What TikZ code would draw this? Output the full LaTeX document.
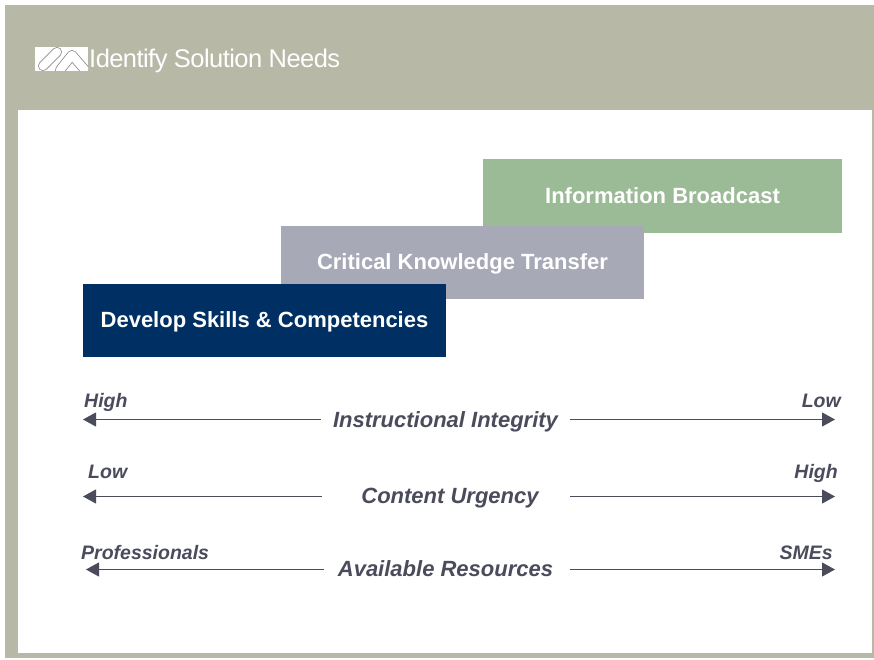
\documentclass[tikz,border=0pt]{standalone}
\usepackage{fontspec}
\setmainfont{Liberation Sans}
\usetikzlibrary{arrows.meta}
\definecolor{frameC}{HTML}{B7B9A6}
\definecolor{navy}{HTML}{003063}
\definecolor{greyB}{HTML}{A8A9B7}
\definecolor{greenB}{HTML}{9BBA96}
\definecolor{inkC}{HTML}{4A4C5C}
\tikzset{
  px/.style={x=1pt,y=-1pt},
  band/.style={draw=none,inner sep=0pt,outer sep=0pt,minimum height=73pt},
  bandtext/.style={anchor=base,inner sep=0pt,text=white,font=\bfseries\fontsize{22}{24}\selectfont},
  axislabel/.style={anchor=base,inner sep=0pt,text=inkC,font=\bfseries\itshape\fontsize{22}{24}\selectfont},
  endlabel/.style={inner sep=0pt,text=inkC,font=\bfseries\itshape\fontsize{19.5}{22}\selectfont},
  axisarrow/.style={draw=inkC,line width=1pt,-{Triangle[length=13pt,width=14pt]}},
  logoout/.style={draw=black!45,line width=10pt,line cap=round,line join=round},
  logoin/.style={draw=white,line width=8.4pt,line cap=round,line join=round}
}
\begin{document}
\begin{tikzpicture}[px]
\useasboundingbox (0,0) rectangle (874,660);
\fill[white] (0,0) rectangle (874,660);
\fill[frameC] (5,5) rectangle (874,658);
\fill[white] (18,110) rectangle (872,653);
% logo
\fill[white] (35,47) rectangle (88,71);
\begin{scope}
\clip (35,47) rectangle (88,71);
\draw[logoout] (43,66) -- (57,52);
\draw[logoin] (43,66) -- (57,52);
\draw[logoout] (60,70) -- (72,55) -- (85,70);
\draw[logoin] (60,70) -- (72,55) -- (85,70);
\end{scope}
\node[anchor=base west,inner sep=0pt,text=white,font=\fontsize{25.5}{28}\selectfont\addfontfeature{LetterSpace=-2.2}] (title) at (89,68) {Identify Solution Needs};
% bands
\node[band,fill=greenB,minimum width=359pt] (info) at (662.5,196) {};
\node[band,fill=greyB,minimum width=363pt] (crit) at (462.5,262.5) {};
\node[band,fill=navy,minimum width=363pt] (dev) at (264.5,320.5) {};
\node[bandtext] (infot) at (662.5,204) {Information Broadcast};
\node[bandtext] (critt) at (462.5,269.5) {Critical Knowledge Transfer};
\node[bandtext] (devt) at (264.5,327) {Develop Skills \& Competencies};
% axes
\node[axislabel] (ii) at (445.5,427) {Instructional Integrity};
\node[axislabel] (cu) at (450,503.5) {Content Urgency};
\node[axislabel] (ar) at (445.5,576) {Available Resources};
\coordinate (iiL) at (83,419.5); \coordinate (iiR) at (835,419.5);
\coordinate (iiLs) at (321,419.5); \coordinate (iiRs) at (570,419.5);
\coordinate (cuL) at (83,496.5); \coordinate (cuR) at (835,496.5);
\coordinate (cuLs) at (322,496.5); \coordinate (cuRs) at (570,496.5);
\coordinate (arL) at (86,569.5); \coordinate (arR) at (835,569.5);
\coordinate (arLs) at (324,569.5); \coordinate (arRs) at (570,569.5);
\draw[axisarrow] (iiLs) -- (iiL);
\draw[axisarrow] (iiRs) -- (iiR);
\draw[axisarrow] (cuLs) -- (cuL);
\draw[axisarrow] (cuRs) -- (cuR);
\draw[axisarrow] (arLs) -- (arL);
\draw[axisarrow] (arRs) -- (arR);
% end labels
\node[endlabel,anchor=base west] (h1) at (84,407) {High};
\node[endlabel,anchor=base east] (l1) at (841,407) {Low};
\node[endlabel,anchor=base west] (l2) at (88,478) {Low};
\node[endlabel,anchor=base east] (h2) at (838,478) {High};
\node[endlabel,anchor=base west] (pr) at (81,559) {Professionals};
\node[endlabel,anchor=base east] (sm) at (833,559) {SMEs};
\end{tikzpicture}
\end{document}
